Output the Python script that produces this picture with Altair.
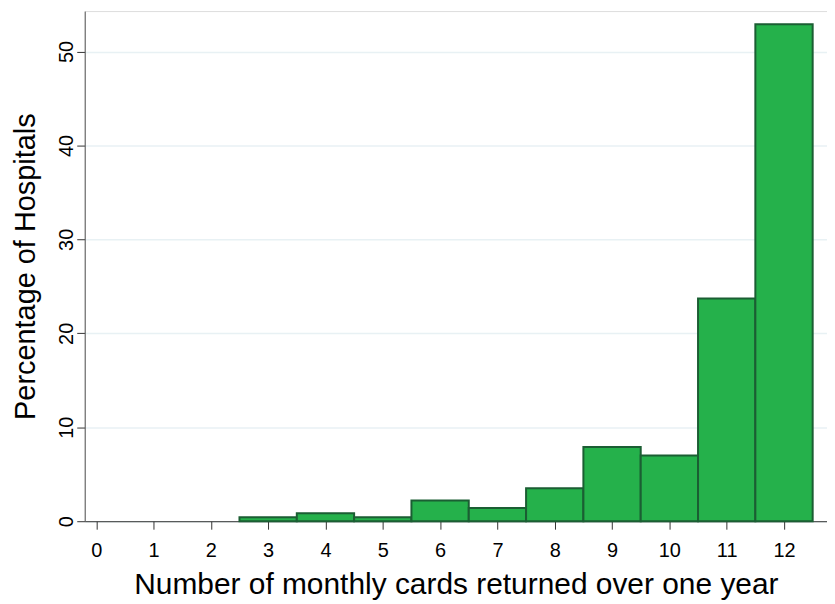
import altair as alt
import pandas as pd

cards = [3, 4, 5, 6, 7, 8, 9, 10, 11, 12]
percent = [0.42, 0.85, 0.42, 2.2, 1.4, 3.5, 7.9, 7.0, 23.7, 52.9]

df = pd.DataFrame({"cards": cards, "percent": percent})
df["lo"] = df["cards"] - 0.5
df["hi"] = df["cards"] + 0.5

font = "Liberation Sans"

bars = alt.Chart(df).mark_rect(
    color="#25b14b", stroke="#1b5e33", strokeWidth=2
).encode(
    x=alt.X("lo:Q", scale=alt.Scale(domain=[-0.2, 12.75], nice=False, zero=False),
            axis=alt.Axis(values=list(range(13)), title="Number of monthly cards returned over one year",
                          grid=False, tickSize=8, labelFontSize=20, titleFontSize=30,
                          labelFont=font, titleFont=font, titleFontWeight="normal",
                          labelColor="black", titleColor="black", domainColor="#333333",
                          tickColor="#333333", labelBaseline="alphabetic", labelPadding=27,
                          titleBaseline="alphabetic", titleY=73)),
    x2="hi:Q",
    y=alt.Y("percent:Q", scale=alt.Scale(domain=[0, 54.3], nice=False),
            axis=alt.Axis(values=[0, 10, 20, 30, 40, 50], title="Percentage of Hospitals",
                          grid=True, gridColor="#e8f1f4", gridWidth=1.5,
                          tickSize=8, labelFontSize=20, titleFontSize=29,
                          labelAngle=270, labelAlign="center", labelBaseline="bottom",
                          labelFont=font, titleFont=font, titleFontWeight="normal",
                          labelColor="black", titleColor="black", domainColor="#555555",
                          tickColor="#333333", labelPadding=0,
                          titleBaseline="alphabetic", titleX=-50)),
    y2=alt.datum(0),
)

chart = bars.properties(
    width=745, height=512,
    autosize=alt.AutoSizeParams(type="none"),
    padding={"left": 77, "top": 2, "right": 0, "bottom": 80},
).configure_view(stroke=None).configure(background="white")

chart.save("out.html", embed_options={"renderer": "svg", "actions": False})
